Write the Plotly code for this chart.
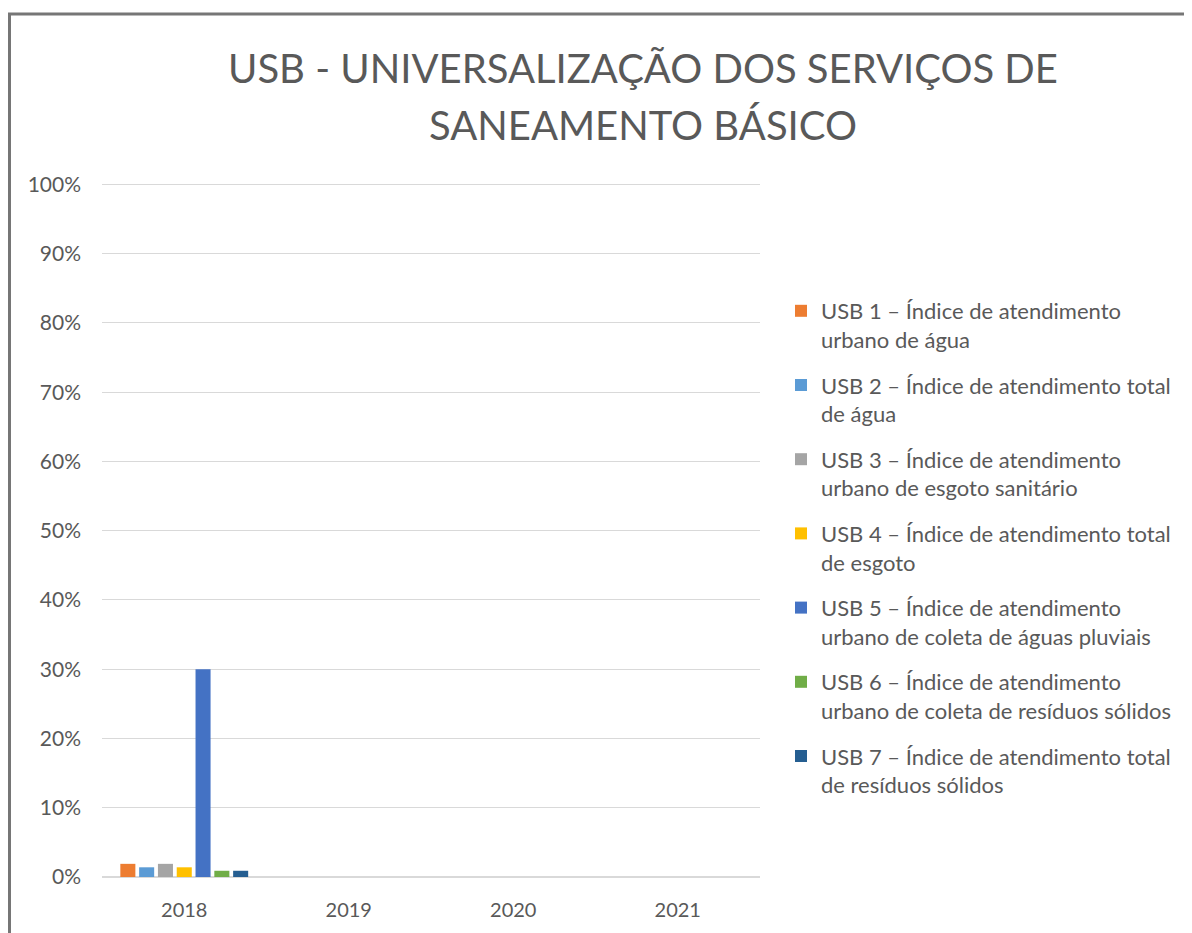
import plotly.graph_objects as go

years = ["2018", "2019", "2020", "2021"]
series_names = [
    "USB 1 – Índice de atendimento<br>urbano de água",
    "USB 2 – Índice de atendimento total<br>de água",
    "USB 3 – Índice de atendimento<br>urbano de esgoto sanitário",
    "USB 4 – Índice de atendimento total<br>de esgoto",
    "USB 5 – Índice de atendimento<br>urbano de coleta de águas pluviais",
    "USB 6 – Índice de atendimento<br>urbano de coleta de resíduos sólidos",
    "USB 7 – Índice de atendimento total<br>de resíduos sólidos",
]
usb1 = [0.019, None, None, None]
usb2 = [0.014, None, None, None]
usb3 = [0.019, None, None, None]
usb4 = [0.014, None, None, None]
usb5 = [0.30, None, None, None]
usb6 = [0.009, None, None, None]
usb7 = [0.009, None, None, None]
series_values = [usb1, usb2, usb3, usb4, usb5, usb6, usb7]
colors = ["#ED7D31", "#5B9BD5", "#A5A5A5", "#FFC000", "#4472C4", "#70AD47", "#255E91"]
title_line1 = "USB - UNIVERSALIZAÇÃO DOS SERVIÇOS DE"
title_line2 = "SANEAMENTO BÁSICO"

FONT = "Lato"
TXT = "#595959"
OFF = 8  # default page body margin

fig = go.Figure()
for i, (name, vals, col) in enumerate(zip(series_names, series_values, colors)):
    fig.add_trace(go.Bar(x=years, y=vals, name=name, marker_color=col,
                         marker_line_width=0, legendgroup=f"g{i}"))

W, H = 1192 - OFF, 933 - OFF
L, R, T, B = 102 - OFF, 760 - OFF, 183 - OFF, 877 - OFF
pw, ph = R - L, B - T

def px_x(x):
    return (x - OFF - L) / pw

def px_y(y):
    return (B - (y - OFF)) / ph

fig.update_layout(
    width=W, height=H,
    margin=dict(l=L, r=W - R, t=T, b=H - B),
    paper_bgcolor="white", plot_bgcolor="white",
    barmode="group", bargap=0.2, bargroupgap=0.2,
    font=dict(family=FONT, color=TXT, size=20),
    showlegend=True,
    legend=dict(x=px_x(781), y=px_y(290), xanchor="left", yanchor="top",
                font=dict(family=FONT, size=22, color=TXT), valign="top",
                tracegroupgap=14, itemwidth=30, bgcolor="rgba(0,0,0,0)"),
    xaxis=dict(type="category", showgrid=False, showline=False, ticks="",
               tickfont=dict(family=FONT, size=20, color=TXT), ticklabelstandoff=19),
    yaxis=dict(range=[0, 1.002], tickvals=[i / 10 for i in range(11)], tickformat=".0%",
               showgrid=True, gridcolor="#D9D9D9", gridwidth=1, zeroline=True,
               zerolinecolor="#D9D9D9", zerolinewidth=2, showline=False, ticks="",
               tickfont=dict(family=FONT, size=21, color=TXT), ticklabelstandoff=20),
)

fig.add_annotation(text=title_line1, xref="paper", yref="paper",
                   x=px_x(643), y=px_y(68), xanchor="center", yanchor="middle",
                   showarrow=False, font=dict(family=FONT, size=40, color=TXT))
fig.add_annotation(text=title_line2, xref="paper", yref="paper",
                   x=px_x(643), y=px_y(125), xanchor="center", yanchor="middle",
                   showarrow=False, font=dict(family=FONT, size=40, color=TXT))

fig.add_shape(type="rect", xref="paper", yref="paper",
              x0=px_x(9.5), y0=px_y(1100), x1=px_x(1400), y1=px_y(14),
              line=dict(color="#767676", width=3), fillcolor="rgba(0,0,0,0)", layer="below")

fig.write_html("out.html")
